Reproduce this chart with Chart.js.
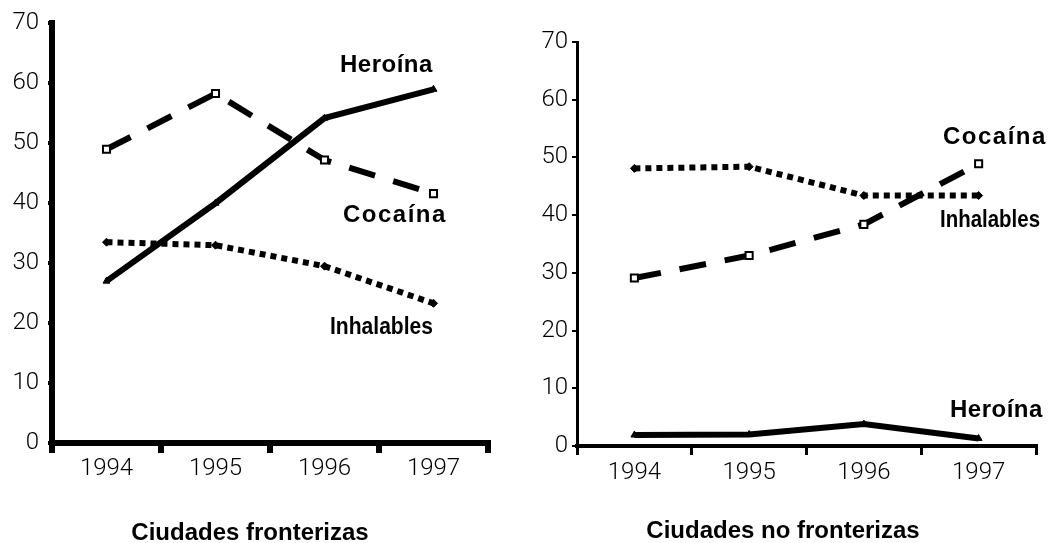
<!DOCTYPE html>
<html>
<head>
<meta charset="utf-8">
<script src="https://cdn.jsdelivr.net/npm/chart.js@4.4.1/dist/chart.umd.min.js"></script>
<style>
  html, body { margin: 0; padding: 0; background: #fff; }
  #wrap { position: relative; width: 1051px; height: 543px; overflow: hidden; }
  #c1 { position: absolute; left: 0; top: 0; }
  #c2 { position: absolute; left: 520px; top: 0; }
</style>
</head>
<body>
<div id="wrap">
  <canvas id="c1" width="520" height="543"></canvas>
  <canvas id="c2" width="531" height="543"></canvas>
</div>
<script>
// ---- data ----
const years = ['1994', '1995', '1996', '1997'];
const yTickValues = [0, 10, 20, 30, 40, 50, 60, 70];

const borderHeroina    = [27, 40, 54.2, 59];
const borderCocaina    = [49, 58.3, 47.2, 41.6];
const borderInhalables = [33.5, 33, 29.5, 23.3];

const nonBorderHeroina    = [1.9, 2.0, 3.8, 1.3];
const nonBorderCocaina    = [29.1, 33, 38.4, 48.9];
const nonBorderInhalables = [48.1, 48.4, 43.4, 43.4];

const titleBorder = 'Ciudades fronterizas';
const titleNonBorder = 'Ciudades no fronterizas';

// ---- styles ----
const TICK_FONT = { family: 'Roboto, "Liberation Sans", sans-serif', size: 24, weight: '300' };
const BOLD = '"Liberation Sans", Arial, sans-serif';

const annotPlugin = {
  id: 'annot',
  afterDraw(chart) {
    const items = chart.options.plugins.annot.items || [];
    const ctx = chart.ctx;
    ctx.save();
    ctx.fillStyle = '#000';
    ctx.textBaseline = 'middle';
    for (const it of items) {
      ctx.font = it.font;
      ctx.textAlign = it.align || 'left';
      ctx.letterSpacing = it.spacing || '0px';
      if (it.maxWidth) ctx.fillText(it.text, it.x, it.y, it.maxWidth);
      else ctx.fillText(it.text, it.x, it.y);
    }
    ctx.restore();
  }
};

function makeDatasets(h, c, inh, lw) {
  return [
    { label: 'Heroína', data: h, borderColor: '#000', backgroundColor: '#000',
      borderWidth: lw, pointStyle: 'triangle', pointRadius: 4,
      pointBackgroundColor: '#000', pointBorderColor: '#000', pointBorderWidth: 1 },
    { label: 'Cocaína', data: c, borderColor: '#000', backgroundColor: '#fff',
      borderWidth: lw, borderDash: [27, 19], pointStyle: 'rect', pointRadius: 5,
      pointBackgroundColor: '#fff', pointBorderColor: '#000', pointBorderWidth: 2 },
    { label: 'Inhalables', data: inh, borderColor: '#000', backgroundColor: '#000',
      borderWidth: lw, borderDash: [6, 5], pointStyle: 'rectRot', pointRadius: 4,
      pointBackgroundColor: '#000', pointBorderColor: '#000', pointBorderWidth: 1 }
  ];
}

function makeChart(id, cfg) {
  return new Chart(document.getElementById(id), {
    type: 'line',
    data: { labels: years, datasets: makeDatasets(cfg.h, cfg.c, cfg.inh, 6) },
    plugins: [annotPlugin],
    options: {
      responsive: false,
      animation: false,
      events: [],
      layout: { padding: cfg.padding },
      elements: { line: { tension: 0, borderCapStyle: 'butt' } },
      plugins: {
        legend: { display: false },
        tooltip: { enabled: false },
        annot: { items: cfg.items }
      },
      scales: {
        x: {
          type: 'category',
          offset: true,
          border: { display: true, color: '#000', width: cfg.xBorder },
          grid: { display: true, drawOnChartArea: false, drawTicks: true, offset: true,
                  color: '#000', lineWidth: cfg.xTickWidth, tickWidth: cfg.xTickWidth, tickLength: cfg.xTickLen },
          ticks: { color: '#000', font: TICK_FONT, padding: cfg.xPad, maxRotation: 0 },
          afterFit(scale) { scale.height = cfg.xHeight; }
        },
        y: {
          min: 0, max: 70,
          afterBuildTicks(scale) { scale.ticks = yTickValues.map(v => ({ value: v })); },
          border: { display: true, color: '#000', width: cfg.yBorder },
          grid: { display: true, drawOnChartArea: false, drawTicks: true,
                  color: '#000', lineWidth: cfg.yTickWidth, tickWidth: cfg.yTickWidth, tickLength: cfg.yTickLen },
          ticks: { color: '#000', font: TICK_FONT, padding: cfg.yPad },
          afterFit(scale) { scale.width = cfg.yWidth; }
        }
      }
    }
  });
}

makeChart('c1', {
  h: borderHeroina, c: borderCocaina, inh: borderInhalables,
  padding: { left: 0, right: 32, top: 23, bottom: 0 },
  xHeight: 100, yWidth: 52,
  xBorder: 6, yBorder: 6,
  xTickWidth: 6, xTickLen: 10, yTickWidth: 4, yTickLen: 4,
  xPad: 2, yPad: 9,
  items: [
    { text: 'Heroína', x: 340, y: 65, font: 'bold 24px ' + BOLD, spacing: '0.5px' },
    { text: 'Cocaína', x: 343, y: 215, font: 'bold 24px ' + BOLD, spacing: '1.5px' },
    { text: 'Inhalables', x: 330, y: 327, font: 'bold 24px ' + BOLD, spacing: '0px', maxWidth: 103 },
    { text: titleBorder, x: 250, y: 533, font: 'bold 24px ' + BOLD, align: 'center' }
  ]
});

makeChart('c2', {
  h: nonBorderHeroina, c: nonBorderCocaina, inh: nonBorderInhalables,
  padding: { left: 0, right: 15, top: 42, bottom: 0 },
  xHeight: 97, yWidth: 57,
  xBorder: 4, yBorder: 3,
  xTickWidth: 3, xTickLen: 9, yTickWidth: 2, yTickLen: 5,
  xPad: 4, yPad: 4,
  items: [
    { text: 'Cocaína', x: 423, y: 137, font: 'bold 24px ' + BOLD, spacing: '1.5px' },
    { text: 'Inhalables', x: 420, y: 220, font: 'bold 24px ' + BOLD, spacing: '0px', maxWidth: 100 },
    { text: 'Heroína', x: 430, y: 410, font: 'bold 24px ' + BOLD, spacing: '0.5px' },
    { text: titleNonBorder, x: 263, y: 531, font: 'bold 24px ' + BOLD, align: 'center' }
  ]
});
</script>
</body>
</html>
